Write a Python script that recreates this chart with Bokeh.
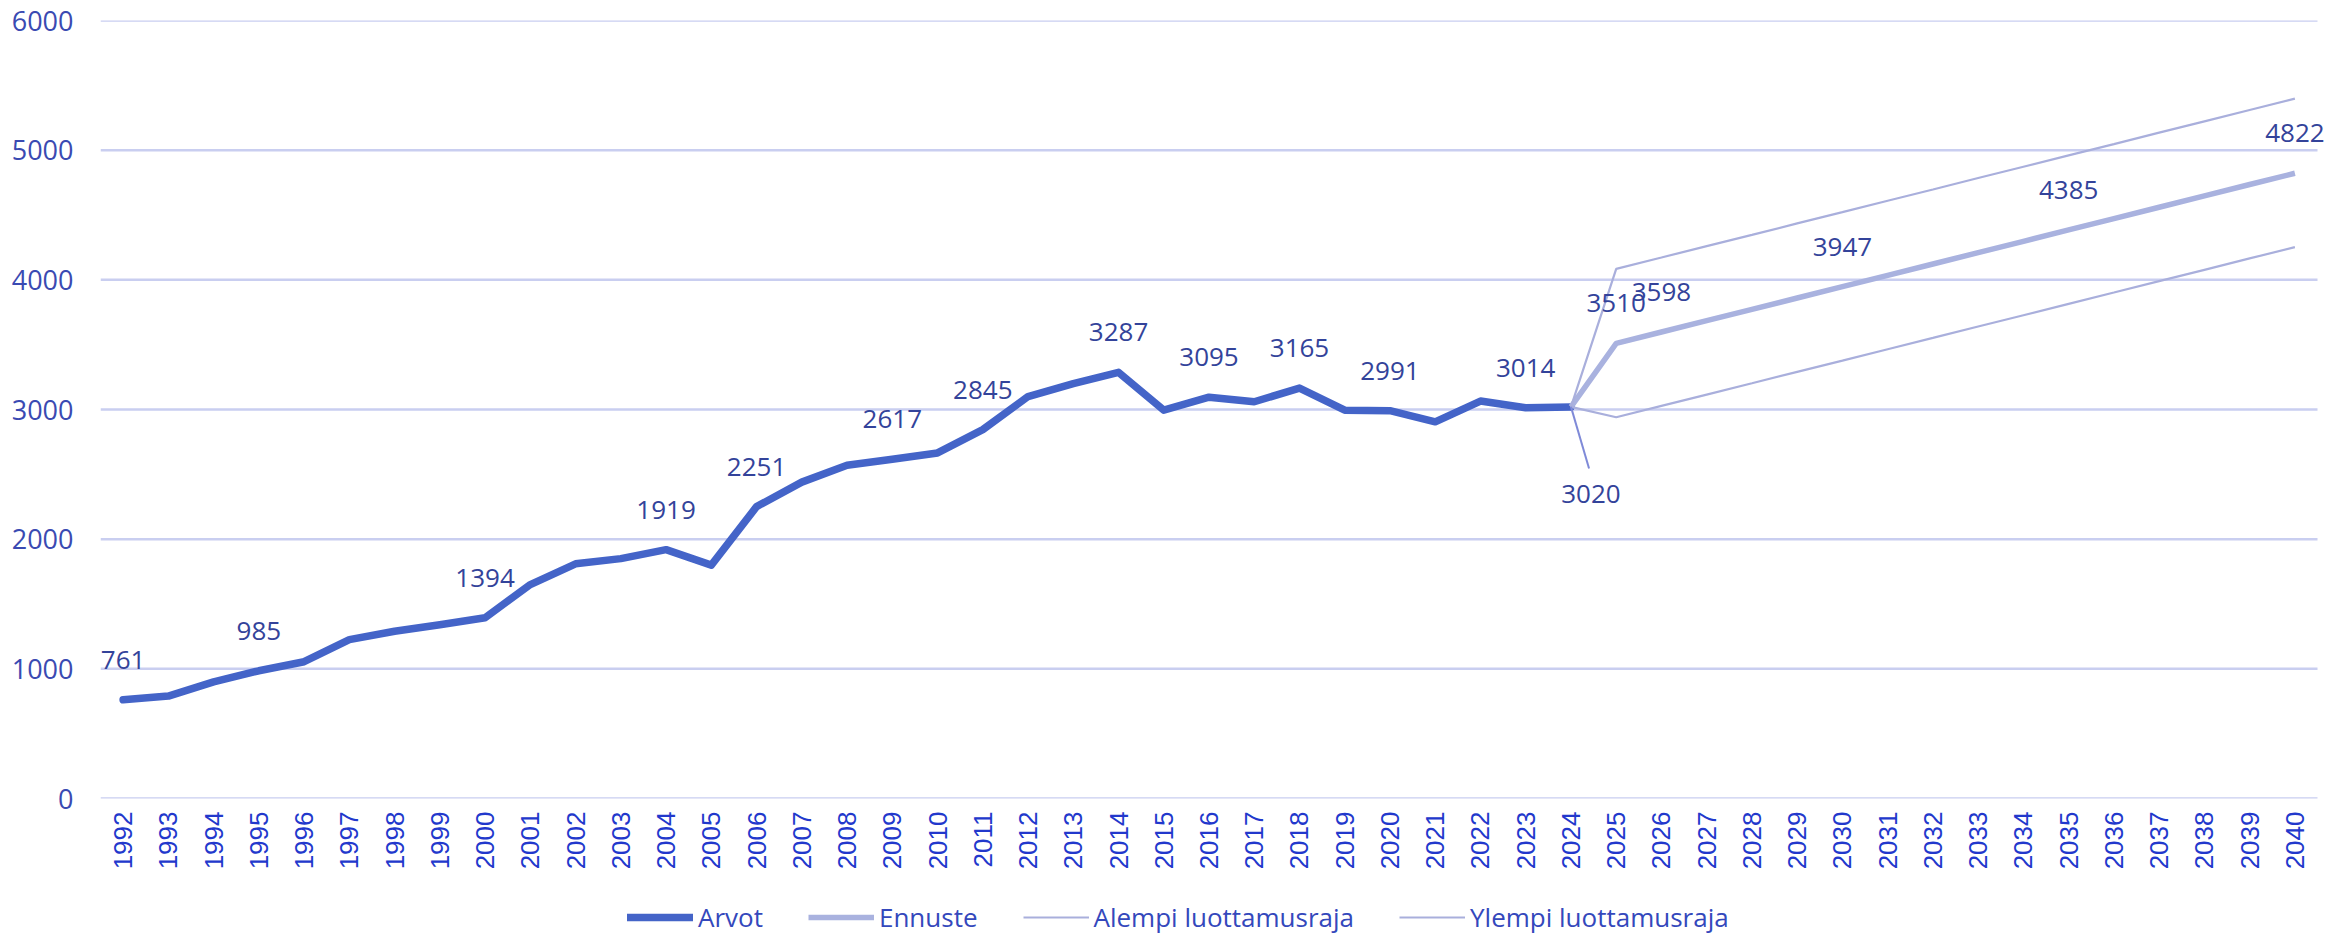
import math
from bokeh.plotting import figure
from bokeh.layouts import column
from bokeh.models import Range1d, FixedTicker, Legend, LegendItem, ColumnDataSource
from bokeh.core.properties import value
from bokeh.embed import file_html
from bokeh.resources import INLINE

# ---------------- data ----------------
years = [1992, 1993, 1994, 1995, 1996, 1997, 1998, 1999, 2000, 2001, 2002, 2003,
         2004, 2005, 2006, 2007, 2008, 2009, 2010, 2011, 2012, 2013, 2014, 2015,
         2016, 2017, 2018, 2019, 2020, 2021, 2022, 2023, 2024, 2025, 2026, 2027,
         2028, 2029, 2030, 2031, 2032, 2033, 2034, 2035, 2036, 2037, 2038, 2039, 2040]

arvot_years = [1992, 1993, 1994, 1995, 1996, 1997, 1998, 1999, 2000, 2001, 2002,
               2003, 2004, 2005, 2006, 2007, 2008, 2009, 2010, 2011, 2012, 2013,
               2014, 2015, 2016, 2017, 2018, 2019, 2020, 2021, 2022, 2023, 2024]
arvot = [761, 790, 900, 985, 1055, 1225, 1290, 1340, 1394, 1650, 1810,
         1850, 1919, 1800, 2251, 2440, 2570, 2617, 2665, 2845, 3100, 3200,
         3287, 2995, 3095, 3060, 3165, 2995, 2991, 2905, 3065, 3014, 3020]

ennuste_years = [2024, 2025, 2026, 2027, 2028, 2029, 2030, 2031, 2032, 2033,
                 2034, 2035, 2036, 2037, 2038, 2039, 2040]
ennuste = [3020, 3510, 3598, 3685, 3772, 3860, 3947, 4035, 4122, 4210,
           4297, 4385, 4472, 4560, 4647, 4735, 4822]
alempi = [3020, 2940, 3028, 3115, 3202, 3290, 3377, 3465, 3552, 3640,
          3727, 3815, 3902, 3990, 4077, 4165, 4252]
ylempi = [3020, 4085, 4172, 4260, 4347, 4435, 4522, 4610, 4697, 4785,
          4872, 4960, 5047, 5135, 5222, 5310, 5397]

y_ticks = [0, 1000, 2000, 3000, 4000, 5000, 6000]

arvot_label_years = [1992, 1995, 2000, 2004, 2006, 2009, 2011, 2014, 2016,
                     2018, 2020, 2023]
ennuste_label_years = [2025, 2026, 2030, 2035, 2040]
series_names = ["Arvot", "Ennuste", "Alempi luottamusraja", "Ylempi luottamusraja"]

# ---------------- styles ----------------
C_ARVOT = "#4464c8"
C_ENN = "#a9b2df"
C_BOUND = "#a9afdc"
C_GRID = "#c9cef0"
C_LBL = "#33439a"
C_YAX = "#3a4ab2"
C_XAX = "#2238cc"
C_LEG = "#3448bc"
FONT = "Open Sans"
W = 2351
H_MAIN = 883
H_LEG = 54

x_start = years[0] - 0.5
x_end = years[-1] + 0.5

p = figure(width=W, height=H_MAIN, output_backend="svg", toolbar_location=None,
           x_range=Range1d(x_start, x_end + 0.685), y_range=Range1d(0, 6000),
           min_border_left=100, min_border_right=3, min_border_top=20,
           min_border_bottom=85)
p.outline_line_color = None
p.background_fill_color = "white"
p.border_fill_color = "white"

p.xgrid.visible = False
p.ygrid.visible = False
# horizontal gridlines limited to the category span
p.segment(x0=[x_start] * len(y_ticks), x1=[x_end] * len(y_ticks),
          y0=y_ticks, y1=y_ticks, line_color=C_GRID, line_width=2.5)

p.yaxis.ticker = FixedTicker(ticks=y_ticks)
p.yaxis.axis_line_color = None
p.yaxis.major_tick_line_color = None
p.yaxis.minor_tick_line_color = None
p.yaxis.major_tick_out = 0
p.yaxis.major_tick_in = 0
p.yaxis.major_label_standoff = 27
p.yaxis.major_label_text_font = FONT
p.yaxis.major_label_text_font_size = "27px"
p.yaxis.major_label_text_color = C_YAX

p.xaxis.ticker = FixedTicker(ticks=years)
p.xaxis.axis_line_color = None
p.xaxis.major_tick_line_color = None
p.xaxis.minor_tick_line_color = None
p.xaxis.major_tick_out = 0
p.xaxis.major_tick_in = 0
p.xaxis.major_label_orientation = math.pi / 2
p.xaxis.major_label_standoff = 13
p.xaxis.major_label_text_font = "Liberation Sans"
p.xaxis.major_label_text_font_size = "26px"
p.xaxis.major_label_text_color = C_XAX

line_styles = [dict(line_color=C_ARVOT, line_width=7.5, line_join="round", line_cap="round"),
               dict(line_color=C_ENN, line_width=5.5, line_join="round"),
               dict(line_color=C_BOUND, line_width=2.2),
               dict(line_color=C_BOUND, line_width=2.2)]
series = [(arvot_years, arvot), (ennuste_years, ennuste),
          (ennuste_years, alempi), (ennuste_years, ylempi)]

for (xs, ys), st in zip(series, line_styles):
    p.line(xs, ys, **st)

# data labels
lab_x = arvot_label_years + ennuste_label_years
lab_y = [arvot[arvot_years.index(yr)] for yr in arvot_label_years] + \
        [ennuste[ennuste_years.index(yr)] for yr in ennuste_label_years]
src = ColumnDataSource(dict(x=lab_x, y=lab_y, t=[str(v) for v in lab_y]))
p.text(x="x", y="y", text="t", source=src, text_align="center",
       text_baseline="middle", y_offset=-40, text_font=value(FONT),
       text_font_size="26px", text_color=C_LBL)

# 2024 label with leader line
x24 = ennuste_years[0]
v24 = ennuste[0]
p.segment(x0=[x24], y0=[v24], x1=[x24 + 0.4], y1=[v24 - 475],
          line_color="#7f8ad8", line_width=2)
p.text(x=[x24], y=[v24], text=[str(v24)], text_align="center",
       text_baseline="middle", x_offset=20, y_offset=87,
       text_font=value(FONT), text_font_size="26px", text_color=C_LBL)

# ---------------- legend strip (same series, outside its view) ----------------
q = figure(width=W, height=H_LEG, output_backend="svg", toolbar_location=None,
           x_range=Range1d(0, 1), y_range=Range1d(0, 1), min_border=0,
           x_axis_location=None, y_axis_location=None)
q.grid.visible = False
q.outline_line_color = None
q.border_fill_color = "white"
q.background_fill_color = "white"
leg_renderers = [q.line(xs, ys, **st) for (xs, ys), st in zip(series, line_styles)]
legend = Legend(items=[LegendItem(label=n, renderers=[r])
                       for n, r in zip(series_names, leg_renderers)],
                orientation="horizontal", location=(527, 2),
                padding=0, margin=0, spacing=45, label_standoff=5,
                glyph_width=66, glyph_height=30, label_height=30,
                border_line_color=None, background_fill_alpha=0,
                label_text_font=FONT, label_text_font_size="26px",
                label_text_color=C_LEG)
q.add_layout(legend)

layout = column(p, q, spacing=0)
open("out.html", "w").write(file_html(layout, INLINE))
